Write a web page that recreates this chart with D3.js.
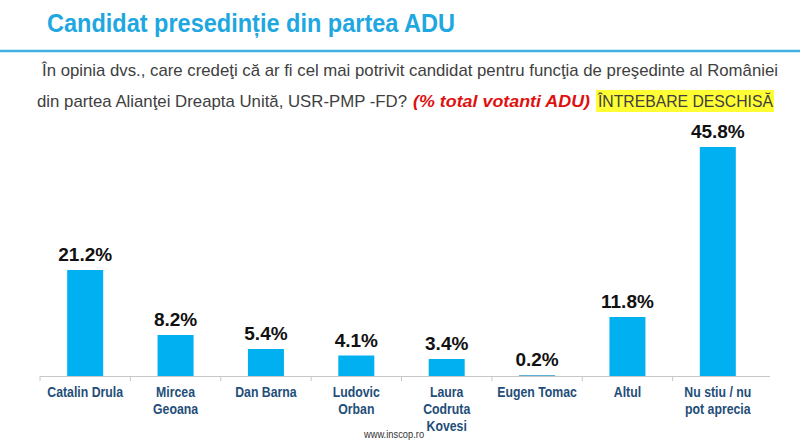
<!DOCTYPE html>
<html><head><meta charset="utf-8">
<script src="https://cdn.jsdelivr.net/npm/d3@7"></script>
<style>body{margin:0;background:#fff}</style></head>
<body><svg id="c" width="800" height="442"></svg>
<script>
const categories = [["Catalin Drula"],["Mircea","Geoana"],["Dan Barna"],["Ludovic","Orban"],["Laura","Codruta","Kovesi"],["Eugen Tomac"],["Altul"],["Nu stiu / nu","pot aprecia"]];
const values = [21.2,8.2,5.4,4.1,3.4,0.2,11.8,45.8];
const F = "Liberation Sans, Arial";
const svg = d3.select("#c");
svg.append("text").attr("x",47).attr("y",32).attr("font-family",F).attr("font-weight","bold").attr("font-size",25).attr("fill","#1ea7e1")
 .attr("textLength",408).attr("lengthAdjust","spacingAndGlyphs").text("Candidat presedinție din partea ADU");
svg.append("line").attr("x1",0).attr("x2",800).attr("y1",51).attr("y2",51).attr("stroke","#41b0e0").attr("stroke-width",2.5);
svg.append("text").attr("x",42).attr("y",76).attr("font-family",F).attr("font-size",17).attr("fill","#404040")
 .attr("textLength",736).attr("lengthAdjust","spacingAndGlyphs").text("În opinia dvs., care credeţi că ar fi cel mai potrivit candidat pentru funcţia de preşedinte al României");
svg.append("rect").attr("x",596).attr("y",90).attr("width",178).attr("height",22).attr("fill","#ffff33");
const part = (x,w,txt,fill,bold)=>svg.append("text").attr("x",x).attr("y",107).attr("font-family",F).attr("font-size",17).attr("fill",fill)
 .attr("font-weight",bold?"bold":"normal").attr("font-style",bold?"italic":"normal").attr("textLength",w).attr("lengthAdjust","spacingAndGlyphs").text(txt);
part(37,370,"din partea Alianţei Dreapta Unită, USR-PMP -FD?","#404040",false);
part(413,177,"(% total votanti ADU)","#e01010",true);
part(598,175,"ÎNTREBARE DESCHISĂ","#404040",false);
const x = d3.scaleBand().domain(d3.range(values.length)).range([40,763]);
const y = d3.scaleLinear().domain([0,45.8]).range([376,147]);
const bw = 36;
svg.selectAll("rect.b").data(values).join("rect").attr("class","b")
 .attr("x",(d,i)=>x(i)+x.bandwidth()/2-bw/2).attr("width",bw)
 .attr("y",d=>y(d)).attr("height",d=>Math.max(376-y(d),1.5)).attr("fill",(d,i)=>d<1?"#5ab0d6":"#00b0f0");
svg.selectAll("text.v").data(values).join("text").attr("class","v")
 .attr("x",(d,i)=>x(i)+x.bandwidth()/2).attr("y",d=>y(d)-9).attr("text-anchor","middle")
 .attr("font-family",F).attr("font-weight","bold").attr("font-size",19).attr("fill","#111")
 .text(d=>d.toFixed(1)+"%");
svg.append("line").attr("x1",40).attr("x2",770).attr("y1",376.5).attr("y2",376.5).attr("stroke","#c8c8c8");
d3.range(values.length).forEach(i=>{const xx=x(i);svg.append("line").attr("x1",xx).attr("x2",xx).attr("y1",376).attr("y2",381).attr("stroke","#c8c8c8");});
categories.forEach((lines,i)=>{
 const cx=x(i)+x.bandwidth()/2;
 const t=svg.append("text").attr("transform",`translate(${cx},397) scale(0.82,1)`).attr("text-anchor","middle")
  .attr("font-family",F).attr("font-weight","bold").attr("font-size",15).attr("fill","#1f4e79");
 lines.forEach((l,j)=>t.append("tspan").attr("x",0).attr("dy",j?17:0).text(l));
});
svg.append("text").attr("transform","translate(394,438) scale(0.85,1)").attr("text-anchor","middle").attr("font-family",F).attr("font-size",11).attr("fill","#333").text("www.inscop.ro");
</script></body></html>
